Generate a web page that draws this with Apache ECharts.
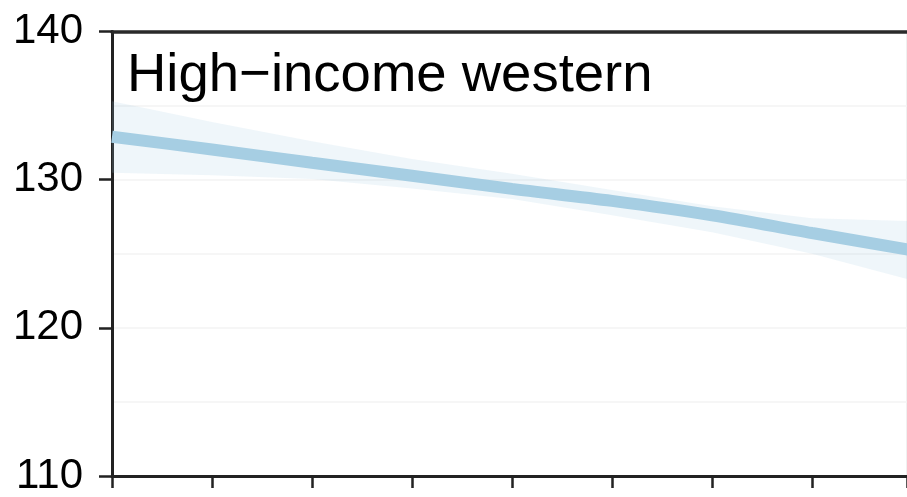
<!DOCTYPE html>
<html><head><meta charset="utf-8">
<script src="https://cdn.jsdelivr.net/npm/echarts@6/dist/echarts.min.js"></script>
<style>html,body{margin:0;padding:0;background:#fff}#c{width:907px;height:497px}</style>
</head><body><div id="c"></div>
<script>
const xValues = [0, 1, 2, 3, 4, 5, 6, 7, 8];
const fitValues = [132.9, 132.04, 131.14, 130.26, 129.38, 128.57, 127.6, 126.4, 125.24];
const bandUpper = [135.3, 133.9, 132.6, 131.4, 130.4, 129.3, 128.2, 127.4, 127.2];
const bandLower = [130.46, 130.3, 130.05, 129.4, 128.7, 127.6, 126.45, 125.0, 123.2];
const yTicks = [110, 120, 130, 140];
const panelTitle = 'High\u2212income western';

const chart = echarts.init(document.getElementById('c'));
const FONT = '"Liberation Sans", Arial, Helvetica, sans-serif';
const bandData = xValues.map((x, i) => [x, bandLower[i], bandUpper[i]]);
chart.setOption({
  animation: false,
  backgroundColor: '#fff',
  grid: {left: 112, right: 0, top: 31.5, bottom: 19, show: true, borderColor: '#ececec', borderWidth: 1.5, backgroundColor: 'transparent'},
  xAxis: [{
    type: 'value', min: 0, max: 7.95, interval: 1,
    axisLine: {show: true, lineStyle: {color: '#222', width: 3}},
    axisTick: {show: true, length: 12, lineStyle: {color: '#222', width: 2.5}},
    axisLabel: {show: false},
    splitLine: {show: false}
  }, {
    type: 'value', min: 0, max: 7.95, position: 'top',
    axisLine: {show: true, lineStyle: {color: '#2a2a2a', width: 3.5}},
    axisTick: {show: false}, axisLabel: {show: false}, splitLine: {show: false}
  }],
  yAxis: {
    type: 'value', min: yTicks[0], max: yTicks[yTicks.length - 1], interval: 10,
    axisLine: {show: true, lineStyle: {color: '#222', width: 3}},
    axisTick: {show: true, length: 13, lineStyle: {color: '#222', width: 2.5}},
    axisLabel: {show: true, margin: 29, fontSize: 42, color: '#000', fontFamily: FONT},
    splitLine: {show: true, lineStyle: {color: '#f3f3f3', width: 1.5}},
    minorTick: {show: false, splitNumber: 2},
    minorSplitLine: {show: true, lineStyle: {color: '#f3f3f3', width: 1.5}}
  },
  series: [
    {type: 'custom', data: bandData, clip: true, silent: true, z: 1,
     renderItem: function (params, api) {
       if (params.dataIndex !== 0) return null;
       const up = bandData.map(d => api.coord([d[0], d[2]]));
       const lo = bandData.map(d => api.coord([d[0], d[1]])).reverse();
       return {type: 'polygon', shape: {points: up.concat(lo)},
               style: {fill: 'rgba(166,206,227,0.18)', stroke: null}};
     }},
    {type: 'line', data: xValues.map((x, i) => [x, fitValues[i]]), smooth: 0.3,
     symbol: 'none', lineStyle: {color: '#a6cee3', width: 12, cap: 'butt'}, z: 3}
  ],
  graphic: [
    {type: 'text', left: 127, top: 48, z: 10,
     style: {text: panelTitle, fontSize: 54.5, fontFamily: FONT, fill: '#000'}}
  ]
});
</script></body></html>
